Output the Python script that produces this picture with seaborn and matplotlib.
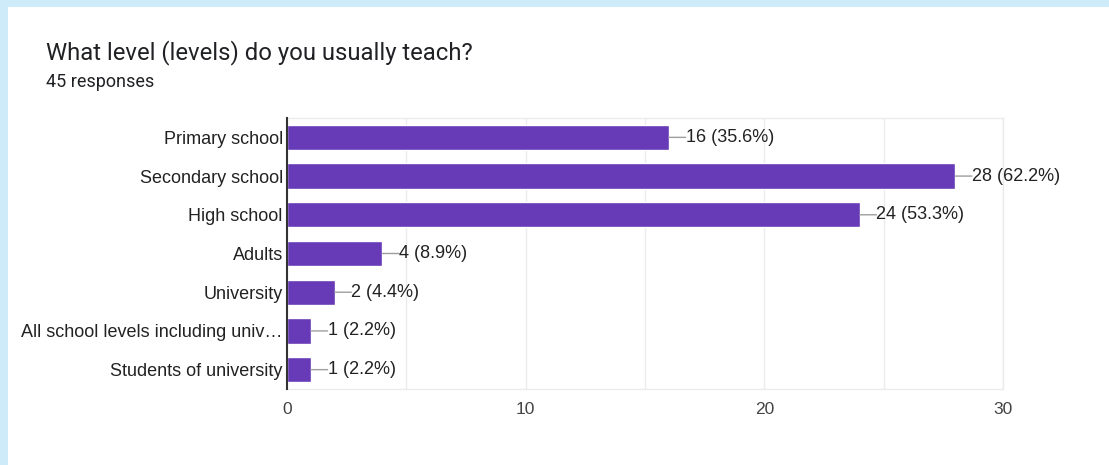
import matplotlib
matplotlib.use("Agg")
import matplotlib.pyplot as plt
import seaborn as sns
import pandas as pd
from matplotlib.patches import Rectangle
from matplotlib.ticker import MultipleLocator

# Data
levels = ["Primary school", "Secondary school", "High school", "Adults",
          "University", "All school levels including univ\u2026",
          "Students of university"]
counts = [16, 28, 24, 4, 2, 1, 1]
percents = ["35.6%", "62.2%", "53.3%", "8.9%", "4.4%", "2.2%", "2.2%"]
title = "What level (levels) do you usually teach?"
subtitle = "45 responses"

BAR_COLOR = "#673ab7"
BG_BLUE = "#cdebf8"


def main():
    df = pd.DataFrame({"level": levels, "count": counts})

    sns.set_style("white")
    plt.rcParams["font.family"] = ["Liberation Sans", "DejaVu Sans"]

    fig = plt.figure(figsize=(11.09, 4.65), dpi=100)
    fig.patch.set_facecolor(BG_BLUE)
    # white card behind everything
    fig.patches.append(Rectangle((8 / 1109, 0), 1, 1 - 7 / 465,
                                 transform=fig.transFigure, facecolor="white",
                                 edgecolor="none", zorder=-10))

    ax = fig.add_axes([287 / 1109, 1 - 389 / 465, 716 / 1109, 271 / 465])
    ax.set_facecolor("white")
    sns.barplot(data=df, x="count", y="level", orient="h", color=BAR_COLOR,
                width=0.65, saturation=1, ax=ax, zorder=3)

    ax.set_xlim(0, 30)
    ax.xaxis.set_major_locator(MultipleLocator(10))
    ax.xaxis.set_minor_locator(MultipleLocator(5))
    ax.grid(axis="x", which="both", color="#ebebeb", linewidth=1, zorder=0)
    ax.set_axisbelow(True)

    for s in ["top", "right", "bottom"]:
        ax.spines[s].set_color("#ebebeb")
        ax.spines[s].set_linewidth(1)
    ax.spines["left"].set_color("#333333")
    ax.spines["left"].set_linewidth(1.5)
    ax.spines["left"].set_zorder(5)

    ax.set_xlabel("")
    ax.set_ylabel("")
    ax.tick_params(axis="both", which="both", length=0)
    ax.tick_params(axis="y", labelsize=13, labelcolor="#222222", pad=3)
    ax.tick_params(axis="x", labelsize=12.5, labelcolor="#444444", pad=9)

    # value labels with connector lines
    for i, (c, p) in enumerate(zip(counts, percents)):
        ax.annotate("", xy=(c, i), xytext=(12, 0),
                    textcoords="offset points",
                    arrowprops=dict(arrowstyle="-", color="#9e9e9e", lw=1,
                                    shrinkA=0, shrinkB=0))
        ax.annotate(f"{c} ({p})", xy=(c, i), xytext=(12, 0),
                    textcoords="offset points", va="center", ha="left",
                    fontsize=13, color="#222222")

    fig.text(46 / 1109, 1 - 53 / 465, title, fontsize=17.2, color="#202124",
             family=["Roboto", "DejaVu Sans"], va="center")
    fig.text(46 / 1109, 1 - 82 / 465, subtitle, fontsize=13, color="#202124",
             family=["Roboto", "DejaVu Sans"], va="center")

    fig.savefig("out.png", dpi=100, facecolor=fig.get_facecolor())


if __name__ == "__main__":
    main()
